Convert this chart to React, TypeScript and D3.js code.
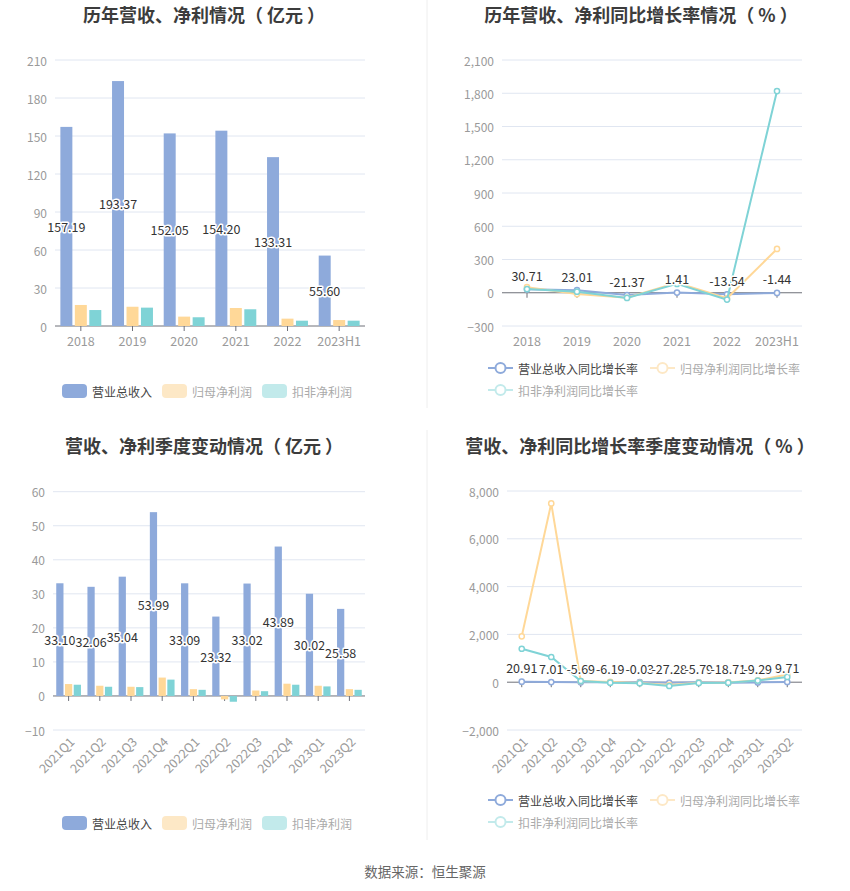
import React from "react";
import * as d3 from "d3";

// yearly data (亿元)
const years = ["2018", "2019", "2020", "2021", "2022", "2023H1"];
const yearRevenue = [157.19, 193.37, 152.05, 154.2, 133.31, 55.6];
const yearNetProfit = [16.6, 15.2, 7.4, 14.2, 5.8, 4.7];
const yearDeducted = [12.6, 14.5, 6.9, 13.2, 4.2, 4.2];

// yearly growth (%)
const yearRevenueGrowth = [30.71, 23.01, -21.37, 1.41, -13.54, -1.44];
const yearNetProfitGrowth = [50, -12, -45, 90, -50, 395];
const yearDeductedGrowth = [33, 10, -47, 80, -62, 1820];

// quarterly data (亿元)
const quarters = ["2021Q1", "2021Q2", "2021Q3", "2021Q4", "2022Q1", "2022Q2", "2022Q3", "2022Q4", "2023Q1", "2023Q2"];
const quarterRevenue = [33.1, 32.06, 35.04, 53.99, 33.09, 23.32, 33.02, 43.89, 30.02, 25.58];
const quarterNetProfit = [3.5, 3.0, 2.7, 5.4, 2.0, -1.0, 1.6, 3.6, 3.0, 2.0];
const quarterDeducted = [3.3, 2.7, 2.6, 4.8, 1.8, -1.7, 1.4, 3.3, 2.8, 1.8];

// quarterly growth (%)
const quarterRevenueGrowth = [20.91, 7.01, -5.69, -6.19, -0.03, -27.28, -5.79, -18.71, -9.29, 9.71];
const quarterNetProfitGrowth = [1920, 7480, 50, 10, -30, -120, -20, -10, 80, 320];
const quarterDeductedGrowth = [1400, 1055, 50, -20, -40, -160, -30, -20, 70, 220];

const barLegend = ["营业总收入", "归母净利润", "扣非净利润"];
const lineLegend = ["营业总收入同比增长率", "归母净利润同比增长率", "扣非净利润同比增长率"];

const FONT = "'Noto Sans CJK SC', 'Noto Sans', sans-serif";
const COLORS = ["#8eaadb", "#ffd898", "#7fd3d6"];
const LEGEND_COLORS = ["#8eaadb", "#fde8c6", "#c2eaeb"];
const LEGEND_TEXT = ["#444", "#aaa", "#aaa"];

type Sel = d3.Selection<SVGSVGElement, unknown, null, undefined>;
type Frame = {
  left: number;
  right: number;
  top: number;
  bottom: number;
  domain: [number, number];
  step: number;
  rotate: boolean;
};

// a little air inside the full-width brackets, as in the original
function title(svg: Sel, text: string, x: number, y: number) {
  const t = svg
    .append("text")
    .attr("x", x)
    .attr("y", y)
    .attr("text-anchor", "middle")
    .attr("dominant-baseline", "central")
    .attr("font-size", 18)
    .attr("font-weight", "bold")
    .attr("fill", "#3c3c3c");
  let prev = "";
  text.split(/([（）])/).filter(s => s).forEach(part => {
    const span = t.append("tspan").text(part);
    if (prev === "（" || part === "）") span.attr("dx", 4);
    prev = part;
  });
}

function frame(svg: Sel, cats: string[], f: Frame) {
  const x = d3.scaleBand<string>().domain(cats).range([f.left, f.right]);
  const y = d3.scaleLinear().domain(f.domain).range([f.bottom, f.top]);
  const ticks = d3.range(f.domain[0], f.domain[1] + f.step / 2, f.step);
  const fmt = d3.format(",");
  const g = svg.append("g");
  ticks.forEach(t => {
    if (t !== 0) {
      g.append("line")
        .attr("x1", f.left)
        .attr("x2", f.right)
        .attr("y1", y(t))
        .attr("y2", y(t))
        .attr("stroke", "#e0e6f1");
    }
    g.append("text")
      .attr("x", f.left - 8)
      .attr("y", y(t))
      .attr("text-anchor", "end")
      .attr("dominant-baseline", "central")
      .attr("font-size", 12)
      .attr("fill", "#9a9a9a")
      .text(fmt(t));
  });
  g.append("line")
    .attr("x1", f.left)
    .attr("x2", f.right)
    .attr("y1", y(0))
    .attr("y2", y(0))
    .attr("stroke", "#6e7079");
  cats.forEach(c => {
    const cx = x(c)! + x.bandwidth() / 2;
    g.append("line")
      .attr("x1", cx)
      .attr("x2", cx)
      .attr("y1", y(0))
      .attr("y2", y(0) + 5)
      .attr("stroke", "#6e7079");
    if (f.rotate) {
      g.append("text")
        .attr("transform", `translate(${cx + 3},${f.bottom + 9}) rotate(-45)`)
        .attr("text-anchor", "end")
        .attr("dominant-baseline", "central")
        .attr("font-size", 12.5)
        .attr("fill", "#9a9a9a")
        .text(c);
    } else {
      g.append("text")
        .attr("x", cx)
        .attr("y", f.bottom + 14)
        .attr("text-anchor", "middle")
        .attr("dominant-baseline", "central")
        .attr("font-size", 12.5)
        .attr("fill", "#9a9a9a")
        .text(c);
    }
  });
  return { x, y };
}

function valueLabel(svg: Sel, x: number, y: number, text: string) {
  svg
    .append("text")
    .attr("x", x)
    .attr("y", y)
    .attr("text-anchor", "middle")
    .attr("dominant-baseline", "central")
    .attr("font-size", 12.5)
    .attr("fill", "#333")
    .attr("stroke", "#fff")
    .attr("stroke-width", 3)
    .attr("paint-order", "stroke")
    .attr("stroke-linejoin", "round")
    .text(text);
}

function bars(svg: Sel, cats: string[], series: number[][], f: Frame) {
  const { x, y } = frame(svg, cats, f);
  const bw = x.bandwidth() * 0.232;
  const gap = x.bandwidth() * 0.048;
  const groupW = bw * 3 + gap * 2;
  series.forEach((vals, si) => {
    svg
      .append("g")
      .selectAll("rect")
      .data(vals)
      .join("rect")
      .attr("x", (_, i) => x(cats[i])! + x.bandwidth() / 2 - groupW / 2 + si * (bw + gap))
      .attr("y", d => y(Math.max(d, 0)))
      .attr("width", bw)
      .attr("height", d => Math.abs(y(d) - y(0)))
      .attr("fill", COLORS[si]);
  });
  series[0].forEach((v, i) => {
    const cx = x(cats[i])! + x.bandwidth() / 2 - groupW / 2 + bw / 2;
    valueLabel(svg, cx, y(v / 2), v.toFixed(2));
  });
}

function lines(svg: Sel, cats: string[], series: number[][], f: Frame) {
  const { x, y } = frame(svg, cats, f);
  const cx = (i: number) => x(cats[i])! + x.bandwidth() / 2;
  const line = d3
    .line<number>()
    .x((_, i) => cx(i))
    .y(d => y(d));
  series.forEach((vals, si) => {
    const g = svg.append("g");
    g.append("path")
      .datum(vals)
      .attr("fill", "none")
      .attr("stroke", COLORS[si])
      .attr("stroke-width", 2)
      .attr("d", line);
    g.selectAll("circle")
      .data(vals)
      .join("circle")
      .attr("cx", (_, i) => cx(i))
      .attr("cy", d => y(d))
      .attr("r", 2.6)
      .attr("fill", "#fff")
      .attr("stroke", COLORS[si])
      .attr("stroke-width", 1.5);
  });
  series[0].forEach((v, i) => valueLabel(svg, cx(i), y(v) - 14, v.toFixed(2)));
}

function barLegendRow(svg: Sel, y: number) {
  const xs = [62, 162, 262];
  barLegend.forEach((name, i) => {
    svg
      .append("rect")
      .attr("x", xs[i])
      .attr("y", y - 7)
      .attr("width", 25)
      .attr("height", 14)
      .attr("rx", 4)
      .attr("fill", LEGEND_COLORS[i]);
    svg
      .append("text")
      .attr("x", xs[i] + 30)
      .attr("y", y)
      .attr("dominant-baseline", "central")
      .attr("font-size", 12)
      .attr("fill", LEGEND_TEXT[i])
      .text(name);
  });
}

function lineLegendRows(svg: Sel, y: number) {
  const pos = [
    [488, y],
    [650, y],
    [488, y + 22],
  ];
  lineLegend.forEach((name, i) => {
    const [lx, ly] = pos[i];
    svg
      .append("line")
      .attr("x1", lx)
      .attr("x2", lx + 25)
      .attr("y1", ly)
      .attr("y2", ly)
      .attr("stroke", LEGEND_COLORS[i])
      .attr("stroke-width", 2);
    svg
      .append("circle")
      .attr("cx", lx + 12.5)
      .attr("cy", ly)
      .attr("r", 5)
      .attr("fill", "#fff")
      .attr("stroke", LEGEND_COLORS[i])
      .attr("stroke-width", 2);
    svg
      .append("text")
      .attr("x", lx + 30)
      .attr("y", ly)
      .attr("dominant-baseline", "central")
      .attr("font-size", 12)
      .attr("fill", LEGEND_TEXT[i])
      .text(name);
  });
}

export default function App() {
  const ref = React.useRef<SVGSVGElement | null>(null);

  React.useEffect(() => {
    if (!ref.current) return;
    const svg = d3.select(ref.current) as Sel;
    svg.selectAll("*").remove();

    svg.append("rect").attr("width", 850).attr("height", 891).attr("fill", "#fff");
    svg.append("line").attr("x1", 427).attr("x2", 427).attr("y1", 0).attr("y2", 408).attr("stroke", "#eeeeee");
    svg.append("line").attr("x1", 427).attr("x2", 427).attr("y1", 430).attr("y2", 840).attr("stroke", "#eeeeee");

    title(svg, "历年营收、净利情况（亿元）", 204, 14);
    bars(svg, years, [yearRevenue, yearNetProfit, yearDeducted], {
      left: 55, right: 365, top: 60, bottom: 326, domain: [0, 210], step: 30, rotate: false,
    });
    barLegendRow(svg, 391);

    title(svg, "历年营收、净利同比增长率情况（%）", 641, 14);
    lines(svg, years, [yearRevenueGrowth, yearNetProfitGrowth, yearDeductedGrowth], {
      left: 502, right: 802, top: 60, bottom: 326, domain: [-300, 2100], step: 300, rotate: false,
    });
    lineLegendRows(svg, 368);

    title(svg, "营收、净利季度变动情况（亿元）", 204, 445);
    bars(svg, quarters, [quarterRevenue, quarterNetProfit, quarterDeducted], {
      left: 53, right: 365, top: 491.7, bottom: 730, domain: [-10, 60], step: 10, rotate: true,
    });
    barLegendRow(svg, 823);

    title(svg, "营收、净利同比增长率季度变动情况（%）", 640, 445);
    lines(svg, quarters, [quarterRevenueGrowth, quarterNetProfitGrowth, quarterDeductedGrowth], {
      left: 507, right: 802, top: 491, bottom: 730, domain: [-2000, 8000], step: 2000, rotate: true,
    });
    lineLegendRows(svg, 800);

    svg
      .append("text")
      .attr("x", 425)
      .attr("y", 871)
      .attr("text-anchor", "middle")
      .attr("dominant-baseline", "central")
      .attr("font-size", 13.5)
      .attr("fill", "#666")
      .text("数据来源：恒生聚源");
  }, []);

  return (
    <div style={{ position: "absolute", left: 0, top: 0 }}>
      <svg ref={ref} width={850} height={891} style={{ display: "block", fontFamily: FONT }}></svg>
    </div>
  );
}
